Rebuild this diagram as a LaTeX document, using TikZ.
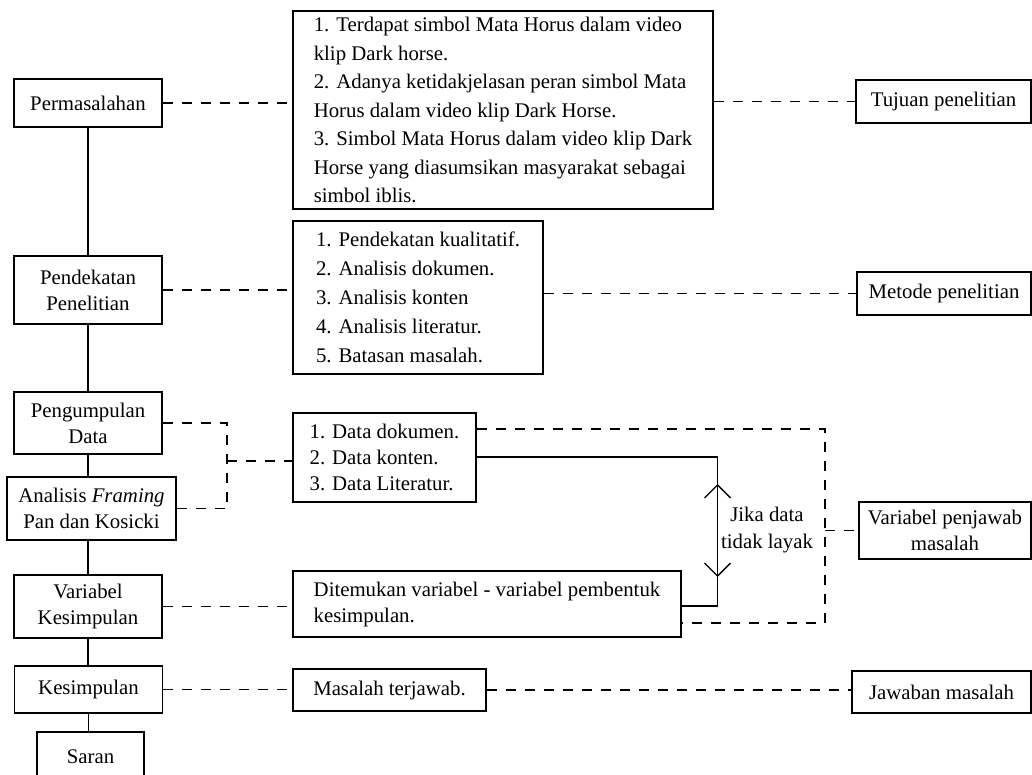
\documentclass[tikz,border=0pt]{standalone}
\usepackage{fontspec}
\setmainfont{Liberation Serif}
\usetikzlibrary{arrows.meta}
\begin{document}
\begin{tikzpicture}[x=1pt,y=-1pt,
  box/.style={draw, line width=1.4pt, inner sep=1pt, font=\fontsize{20.8}{26}\selectfont, align=center},
  lbox/.style={box, align=left},
  dashline/.style={line width=1.3pt, dash pattern=on 10pt off 9pt},
  solidline/.style={line width=1.3pt},
]
\useasboundingbox (0,0) rectangle (1032,774);
% left column
\node[box, minimum width=148pt, minimum height=48pt] (perm) at (88,103) {Permasalahan};
\node[box, minimum width=148pt, minimum height=68pt] (pend) at (88,290) {Pendekatan\\Penelitian};
\node[box, minimum width=148pt, minimum height=62pt] (peng) at (88,423) {Pengumpulan\\Data};
\node[box, minimum width=169pt, minimum height=63pt] (anal) at (91.5,508.5) {Analisis \textit{Framing}\\Pan dan Kosicki};
\node[box, minimum width=148pt, minimum height=63pt] (vark) at (88,606.5) {Variabel\\Kesimpulan};
\node[box, minimum width=148pt, minimum height=47pt] (kes) at (88.5,689.5) {Kesimpulan};
\node[box, minimum width=107pt, minimum height=50pt] (saran) at (90.5,757) {Saran};
% middle column
\node[lbox, minimum width=420pt, minimum height=198pt, font=\fontsize{20.8}{28.5}\selectfont] (box1) at (503,110) {1. Terdapat simbol Mata Horus dalam video\\klip Dark horse.\\2. Adanya ketidakjelasan peran simbol Mata\\Horus dalam video klip Dark Horse.\\3. Simbol Mata Horus dalam video klip Dark\\Horse yang diasumsikan masyarakat sebagai\\simbol iblis.};
\node[lbox, minimum width=250pt, minimum height=153pt, font=\fontsize{20.8}{29}\selectfont] (box2) at (418,297.5) {1. Pendekatan kualitatif.\\2. Analisis dokumen.\\3. Analisis konten\\4. Analisis literatur.\\5. Batasan masalah.};
\node[lbox, minimum width=183pt, minimum height=89pt] (box3) at (384.5,457.5) {1. Data dokumen.\\2. Data konten.\\3. Data Literatur.};
\node[lbox, minimum width=388pt, minimum height=66pt] (box4) at (487,604) {Ditemukan variabel - variabel pembentuk\\kesimpulan.};
\node[box, minimum width=193pt, minimum height=42pt] (masal) at (389.5,690) {Masalah terjawab.};
% right column
\node[box, minimum width=175pt, minimum height=43pt] (tujuan) at (943.5,101.5) {Tujuan penelitian};
\node[box, minimum width=174pt, minimum height=43pt] (metode) at (944,293.5) {Metode penelitian};
\node[box, minimum width=172pt, minimum height=57pt] (varp) at (945,530.5) {Variabel penjawab\\masalah};
\node[box, minimum width=179pt, minimum height=42pt] (jawab) at (941.5,692) {Jawaban masalah};
\node[align=center, inner sep=0pt, font=\fontsize{20.8}{27}\selectfont] (lbl) at (767,530.5) {Jika data\\tidak layak};
% vertical spine
\draw[solidline] (perm.south) -- (perm.south |- pend.north);
\draw[solidline] (pend.south) -- (pend.south |- peng.north);
\draw[solidline] (peng.south) -- (peng.south |- anal.north);
\draw[solidline] (anal.south -| vark.north) -- (vark.north);
\draw[solidline] (vark.south) -- (vark.south |- kes.north);
\draw[solidline] (kes.south) -- (kes.south |- saran.north);
% dashed links
\draw[dashline] (perm.east) -- (perm.east -| box1.west);
\draw[dashline] (box1.east |- tujuan.west) -- (tujuan.west);
\draw[dashline] (pend.east) -- (pend.east -| box2.west);
\draw[dashline] (box2.east |- metode.west) -- (metode.west);
\coordinate (j) at (227,461);
\draw[dashline] (peng.east) -| (j) |- (anal.east);
\draw[dashline] (j) -- (j -| box3.west);
\draw[dashline] (vark.east) -- (vark.east -| box4.west);
\draw[dashline] (kes.east) -- (kes.east -| masal.west);
\draw[dashline] (masal.east) -- (masal.east -| jawab.west);
\coordinate (d1) at (825,429);
\coordinate (d2) at (825,623);
\draw[dashline] (d1 -| box3.east) -- (d1) -- (d2) -- (d2 -| box4.east);
\draw[dashline] (varp.west -| d1) -- (varp.west);
% solid loop with arrows
\coordinate (s1) at (717.5,457);
\coordinate (s2) at (717.5,606);
\draw[solidline] (s1 -| box3.east) -- (s1) -- (s2) -- (s2 -| box4.east);
\coordinate (a1) at (717.5,484);
\coordinate (a2) at (717.5,577);
\draw[solidline, {Straight Barb[length=13pt,width=26pt]}-{Straight Barb[length=13pt,width=26pt]}] (a1) -- (a2);
\end{tikzpicture}
\end{document}
